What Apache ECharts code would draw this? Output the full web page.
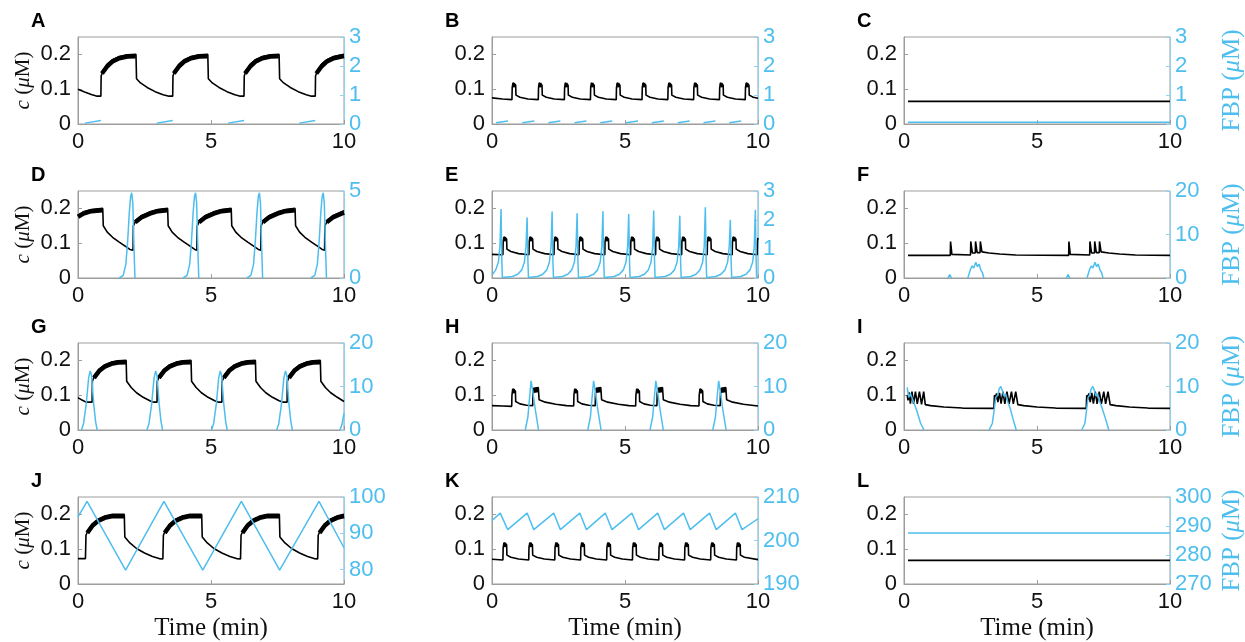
<!DOCTYPE html>
<html><head><meta charset="utf-8">
<script src="https://cdn.jsdelivr.net/npm/echarts@6/dist/echarts.min.js"></script>
<style>html,body{margin:0;padding:0;background:#fff}#c{width:1245px;height:642px}</style>
</head><body><div id="c"></div>
<script>
// ---------- data ----------
const panelLetters = ['A','B','C','D','E','F','G','H','I','J','K','L'];
const timeTicks = [0, 5, 10];
const leftTicks = [0, 0.1, 0.2];
const rightMin = [0, 0, 0, 0, 0, 0, 0, 0, 0, 76, 190, 270];
const rightMax = [3, 3, 3, 5, 3, 20, 20, 20, 20, 100, 210, 300];
const rightTicks = [[0,1,2,3],[0,1,2,3],[0,1,2,3],[0,5],[0,1,2,3],[0,10,20],[0,10,20],[0,10,20],[0,10,20],[80,90,100],[190,200,210],[270,280,290,300]];

const aBlack = [[0,0.1],[0.25,0.092],[0.5,0.085],[0.72,0.08],[0.86,0.08],[0.87,0.138],[0.95,0.155],[1.1,0.172],[1.3,0.185],[1.55,0.194],[1.85,0.199],[2.18,0.2],[2.2,0.13],[2.35,0.118],[2.6,0.105],[2.9,0.093],[3.2,0.084],[3.42,0.08],[3.56,0.08],[3.57,0.138],[3.65,0.155],[3.8,0.172],[4.0,0.185],[4.25,0.194],[4.55,0.199],[4.88,0.2],[4.9,0.13],[5.05,0.118],[5.3,0.105],[5.6,0.093],[5.9,0.084],[6.1,0.08],[6.24,0.08],[6.25,0.138],[6.33,0.155],[6.48,0.172],[6.68,0.185],[6.93,0.194],[7.23,0.199],[7.56,0.2],[7.58,0.13],[7.73,0.118],[7.98,0.105],[8.28,0.093],[8.58,0.084],[8.78,0.08],[8.92,0.08],[8.93,0.138],[9.01,0.155],[9.16,0.172],[9.36,0.185],[9.61,0.194],[9.91,0.199],[10,0.2]];
const aBand = [[0.9,0.145],[1.1,0.166],[1.3,0.18],[1.55,0.189],[1.85,0.194],[2.17,0.195],[2.18,'-'],[3.6,0.145],[3.8,0.166],[4.0,0.18],[4.25,0.189],[4.55,0.194],[4.87,0.195],[4.88,'-'],[6.28,0.145],[6.48,0.166],[6.68,0.18],[6.93,0.189],[7.23,0.194],[7.55,0.195],[7.56,'-'],[8.96,0.145],[9.16,0.166],[9.36,0.18],[9.61,0.189],[9.91,0.194],[10,0.195]];
const aBlue = [[0.26,0.03],[0.86,0.12],[0.87,'-'],[2.96,0.03],[3.56,0.12],[3.57,'-'],[5.64,0.03],[6.24,0.12],[6.25,'-'],[8.32,0.03],[8.92,0.12]];

const bBlack = [[0,0.075],[0.4,0.072],[0.75,0.07],[0.76,0.105],[0.79,0.118],[0.85,0.12],[0.89,0.112],[0.9,0.083],[1.05,0.077],[1.35,0.072],[1.74,0.07],[1.75,0.105],[1.78,0.118],[1.84,0.12],[1.88,0.112],[1.89,0.083],[2.04,0.077],[2.34,0.072],[2.72,0.07],[2.73,0.105],[2.76,0.118],[2.82,0.12],[2.86,0.112],[2.87,0.083],[3.02,0.077],[3.32,0.072],[3.7,0.07],[3.71,0.105],[3.74,0.118],[3.8,0.12],[3.84,0.112],[3.85,0.083],[4.0,0.077],[4.3,0.072],[4.67,0.07],[4.68,0.105],[4.71,0.118],[4.77,0.12],[4.81,0.112],[4.82,0.083],[4.97,0.077],[5.27,0.072],[5.64,0.07],[5.65,0.105],[5.68,0.118],[5.74,0.12],[5.78,0.112],[5.79,0.083],[5.94,0.077],[6.24,0.072],[6.61,0.07],[6.62,0.105],[6.65,0.118],[6.71,0.12],[6.75,0.112],[6.76,0.083],[6.91,0.077],[7.21,0.072],[7.58,0.07],[7.59,0.105],[7.62,0.118],[7.68,0.12],[7.72,0.112],[7.73,0.083],[7.88,0.077],[8.18,0.072],[8.55,0.07],[8.56,0.105],[8.59,0.118],[8.65,0.12],[8.69,0.112],[8.7,0.083],[8.85,0.077],[9.15,0.072],[9.52,0.07],[9.53,0.105],[9.56,0.118],[9.62,0.12],[9.66,0.112],[9.67,0.083],[9.82,0.077],[10,0.074]];
const bBand = [[0.77,0.111],[0.88,0.112],[0.885,'-'],[1.76,0.111],[1.87,0.112],[1.875,'-'],[2.74,0.111],[2.85,0.112],[2.855,'-'],[3.72,0.111],[3.83,0.112],[3.835,'-'],[4.69,0.111],[4.8,0.112],[4.805,'-'],[5.66,0.111],[5.77,0.112],[5.775,'-'],[6.63,0.111],[6.74,0.112],[6.745,'-'],[7.6,0.111],[7.71,0.112],[7.715,'-'],[8.57,0.111],[8.68,0.112],[8.685,'-'],[9.54,0.111],[9.65,0.112]];
const bBlue = [[0.15,0.04],[0.6,0.1],[0.61,'-'],[1.14,0.04],[1.59,0.1],[1.6,'-'],[2.12,0.04],[2.57,0.1],[2.58,'-'],[3.1,0.04],[3.55,0.1],[3.56,'-'],[4.07,0.04],[4.52,0.1],[4.53,'-'],[5.04,0.04],[5.49,0.1],[5.5,'-'],[6.01,0.04],[6.46,0.1],[6.47,'-'],[6.98,0.04],[7.43,0.1],[7.44,'-'],[7.95,0.04],[8.4,0.1],[8.41,'-'],[8.92,0.04],[9.37,0.1]];

const cBlack = [[0.15,0.065],[10,0.065]];
const cBand = [];
const cBlue = [[0.15,0.06],[10,0.06]];

const dBlack = [[0,0.18],[0.2,0.19],[0.5,0.197],[0.93,0.2],[0.95,0.15],[1.1,0.132],[1.3,0.117],[1.55,0.103],[1.8,0.09],[1.95,0.082],[2.07,0.08],[2.08,0.15],[2.2,0.168],[2.4,0.18],[2.7,0.19],[3.0,0.197],[3.37,0.2],[3.39,0.15],[3.54,0.132],[3.74,0.117],[3.99,0.103],[4.24,0.09],[4.39,0.082],[4.47,0.08],[4.48,0.15],[4.6,0.168],[4.8,0.18],[5.1,0.19],[5.4,0.197],[5.76,0.2],[5.78,0.15],[5.93,0.132],[6.13,0.117],[6.38,0.103],[6.63,0.09],[6.78,0.082],[6.87,0.08],[6.88,0.15],[7.0,0.168],[7.2,0.18],[7.5,0.19],[7.8,0.197],[8.16,0.2],[8.18,0.15],[8.33,0.132],[8.53,0.117],[8.78,0.103],[9.03,0.09],[9.18,0.082],[9.27,0.08],[9.28,0.15],[9.4,0.168],[9.6,0.18],[9.9,0.19],[10,0.193]];
const dBand = [[0,0.176],[0.2,0.185],[0.5,0.192],[0.92,0.195],[0.93,'-'],[2.15,0.16],[2.4,0.175],[2.7,0.185],[3.0,0.192],[3.36,0.195],[3.37,'-'],[4.55,0.16],[4.8,0.175],[5.1,0.185],[5.4,0.192],[5.75,0.195],[5.76,'-'],[6.95,0.16],[7.2,0.175],[7.5,0.185],[7.8,0.192],[8.15,0.195],[8.16,'-'],[9.35,0.16],[9.6,0.175],[9.9,0.185],[10,0.188]];
const dBlue = [[1.55,0],[1.7,0.15],[1.8,0.8],[1.87,2.2],[1.93,3.8],[1.98,4.7],[2.02,4.9],[2.06,4.3],[2.1,2],[2.14,0],[2.15,'-'],[3.95,0],[4.1,0.15],[4.2,0.8],[4.27,2.2],[4.33,3.8],[4.38,4.7],[4.42,4.9],[4.46,4.3],[4.5,2],[4.54,0],[4.55,'-'],[6.35,0],[6.5,0.15],[6.6,0.8],[6.67,2.2],[6.73,3.8],[6.78,4.7],[6.82,4.9],[6.86,4.3],[6.9,2],[6.94,0],[6.95,'-'],[8.75,0],[8.9,0.15],[9.0,0.8],[9.07,2.2],[9.13,3.8],[9.18,4.7],[9.22,4.9],[9.26,4.3],[9.3,2],[9.34,0]];

const eBlack = [[0,0.068],[0.41,0.067],[0.42,0.105],[0.45,0.118],[0.51,0.12],[0.55,0.112],[0.56,0.083],[0.71,0.076],[1.0,0.07],[1.39,0.067],[1.4,0.105],[1.43,0.118],[1.49,0.12],[1.53,0.112],[1.54,0.083],[1.69,0.076],[1.98,0.07],[2.33,0.067],[2.34,0.105],[2.37,0.118],[2.43,0.12],[2.47,0.112],[2.48,0.083],[2.63,0.076],[2.92,0.07],[3.27,0.067],[3.28,0.105],[3.31,0.118],[3.37,0.12],[3.41,0.112],[3.42,0.083],[3.57,0.076],[3.86,0.07],[4.24,0.067],[4.25,0.105],[4.28,0.118],[4.34,0.12],[4.38,0.112],[4.39,0.083],[4.54,0.076],[4.83,0.07],[5.21,0.067],[5.22,0.105],[5.25,0.118],[5.31,0.12],[5.35,0.112],[5.36,0.083],[5.51,0.076],[5.8,0.07],[6.15,0.067],[6.16,0.105],[6.19,0.118],[6.25,0.12],[6.29,0.112],[6.3,0.083],[6.45,0.076],[6.74,0.07],[7.13,0.067],[7.14,0.105],[7.17,0.118],[7.23,0.12],[7.27,0.112],[7.28,0.083],[7.43,0.076],[7.72,0.07],[8.09,0.067],[8.1,0.105],[8.13,0.118],[8.19,0.12],[8.23,0.112],[8.24,0.083],[8.39,0.076],[8.68,0.07],[9.03,0.067],[9.04,0.105],[9.07,0.118],[9.13,0.12],[9.17,0.112],[9.18,0.083],[9.33,0.076],[9.62,0.07],[9.97,0.067],[9.98,0.105],[10,0.115]];
const eBand = [[0.43,0.111],[0.54,0.112],[0.545,'-'],[1.41,0.111],[1.52,0.112],[1.525,'-'],[2.35,0.111],[2.46,0.112],[2.465,'-'],[3.29,0.111],[3.4,0.112],[3.405,'-'],[4.26,0.111],[4.37,0.112],[4.375,'-'],[5.23,0.111],[5.34,0.112],[5.345,'-'],[6.17,0.111],[6.28,0.112],[6.285,'-'],[7.15,0.111],[7.26,0.112],[7.265,'-'],[8.11,0.111],[8.22,0.112],[8.225,'-'],[9.05,0.111],[9.16,0.112]];
const eBlue = [[0,0.1],[0.14,0.28],[0.24,0.55],[0.3,1.1],[0.34,2.38],[0.37,0.6],[0.39,0.02],[0.77,0.05],[0.97,0.13],[1.12,0.28],[1.22,0.55],[1.28,1.1],[1.32,2.09],[1.35,0.6],[1.37,0.02],[1.71,0.05],[1.91,0.13],[2.06,0.28],[2.16,0.55],[2.22,1.1],[2.26,2.29],[2.29,0.6],[2.31,0.02],[2.65,0.05],[2.85,0.13],[3.0,0.28],[3.1,0.55],[3.16,1.1],[3.2,2.23],[3.23,0.6],[3.25,0.02],[3.62,0.05],[3.82,0.13],[3.97,0.28],[4.07,0.55],[4.13,1.1],[4.17,2.3],[4.2,0.6],[4.22,0.02],[4.59,0.05],[4.79,0.13],[4.94,0.28],[5.04,0.55],[5.1,1.1],[5.14,2.21],[5.17,0.6],[5.19,0.02],[5.53,0.05],[5.73,0.13],[5.88,0.28],[5.98,0.55],[6.04,1.1],[6.08,2.33],[6.11,0.6],[6.13,0.02],[6.51,0.05],[6.71,0.13],[6.86,0.28],[6.96,0.55],[7.02,1.1],[7.06,2.15],[7.09,0.6],[7.11,0.02],[7.47,0.05],[7.67,0.13],[7.82,0.28],[7.92,0.55],[7.98,1.1],[8.02,2.44],[8.05,0.6],[8.07,0.02],[8.41,0.05],[8.61,0.13],[8.76,0.28],[8.86,0.55],[8.92,1.1],[8.96,2.01],[8.99,0.6],[9.01,0.02],[9.35,0.05],[9.55,0.13],[9.7,0.28],[9.8,0.55],[9.86,1.1],[9.9,2.35],[9.93,0.6],[9.95,0.02],[10,0.04]];

const fBlack = [[0.15,0.065],[1.74,0.065],[1.75,0.105],[1.79,0.105],[1.8,0.068],[2.5,0.066],[2.51,0.105],[2.55,0.105],[2.57,0.072],[2.68,0.072],[2.69,0.105],[2.73,0.105],[2.75,0.073],[2.86,0.073],[2.87,0.105],[2.91,0.105],[2.93,0.075],[3.2,0.072],[3.6,0.069],[4.2,0.066],[6.19,0.065],[6.2,0.105],[6.24,0.105],[6.25,0.068],[6.98,0.066],[6.99,0.105],[7.03,0.105],[7.05,0.072],[7.16,0.072],[7.17,0.105],[7.21,0.105],[7.23,0.073],[7.34,0.073],[7.35,0.105],[7.39,0.105],[7.41,0.075],[7.7,0.072],[8.1,0.069],[8.7,0.066],[10,0.065]];
const fBand = [];
const fBlue = [[1.65,0],[1.72,0.8],[1.78,0],[1.79,'-'],[2.4,0],[2.5,2],[2.56,2.8],[2.62,2.3],[2.7,3.6],[2.76,2.6],[2.82,3.2],[2.88,2],[2.95,1.2],[3.0,0],[3.01,'-'],[6.1,0],[6.17,0.8],[6.23,0],[6.24,'-'],[6.88,0],[6.98,2],[7.04,2.8],[7.1,2.3],[7.18,3.6],[7.24,2.6],[7.3,3.2],[7.36,2],[7.43,1.2],[7.48,0]];

const gBlack = [[0,0.093],[0.15,0.086],[0.3,0.08],[0.53,0.08],[0.54,0.14],[0.65,0.16],[0.8,0.175],[1.0,0.187],[1.25,0.195],[1.5,0.199],[1.81,0.2],[1.83,0.14],[2.0,0.122],[2.2,0.107],[2.45,0.094],[2.7,0.084],[2.85,0.08],[2.97,0.08],[2.98,0.14],[3.09,0.16],[3.24,0.175],[3.44,0.187],[3.69,0.195],[3.94,0.199],[4.25,0.2],[4.27,0.14],[4.44,0.122],[4.64,0.107],[4.89,0.094],[5.14,0.084],[5.29,0.08],[5.41,0.08],[5.42,0.14],[5.53,0.16],[5.68,0.175],[5.88,0.187],[6.13,0.195],[6.38,0.199],[6.67,0.2],[6.69,0.14],[6.86,0.122],[7.06,0.107],[7.31,0.094],[7.56,0.084],[7.71,0.08],[7.86,0.08],[7.87,0.14],[7.98,0.16],[8.13,0.175],[8.33,0.187],[8.58,0.195],[8.83,0.199],[9.11,0.2],[9.13,0.14],[9.3,0.122],[9.5,0.107],[9.75,0.094],[10,0.082]];
const gBand = [[0.6,0.15],[0.8,0.17],[1.0,0.182],[1.25,0.19],[1.5,0.194],[1.8,0.195],[1.81,'-'],[3.04,0.15],[3.24,0.17],[3.44,0.182],[3.69,0.19],[3.94,0.194],[4.24,0.195],[4.25,'-'],[5.48,0.15],[5.68,0.17],[5.88,0.182],[6.13,0.19],[6.38,0.194],[6.66,0.195],[6.67,'-'],[7.93,0.15],[8.13,0.17],[8.33,0.182],[8.58,0.19],[8.83,0.194],[9.1,0.195]];
const gBlue = [[0.13,0],[0.21,1.5],[0.31,6],[0.4,12],[0.46,13.6],[0.51,12.5],[0.59,6],[0.66,2],[0.72,0],[0.73,'-'],[2.59,0],[2.67,1.5],[2.77,6],[2.86,12],[2.92,13.6],[2.97,12.5],[3.05,6],[3.12,2],[3.18,0],[3.19,'-'],[5.02,0],[5.1,1.5],[5.2,6],[5.29,12],[5.35,13.6],[5.4,12.5],[5.48,6],[5.55,2],[5.61,0],[5.62,'-'],[7.47,0],[7.55,1.5],[7.65,6],[7.74,12],[7.8,13.6],[7.85,12.5],[7.93,6],[8.0,2],[8.06,0],[8.07,'-'],[9.85,0],[9.92,1.2],[10,3.8]];

const hBlack = [[0,0.07],[0.4,0.069],[0.74,0.068],[0.75,0.1],[0.78,0.118],[0.84,0.12],[0.88,0.112],[0.89,0.082],[1.05,0.075],[1.3,0.071],[1.53,0.07],[1.54,0.105],[1.57,0.12],[1.74,0.122],[1.76,0.1],[1.77,0.087],[2.0,0.08],[2.4,0.074],[2.8,0.07],[3.07,0.069],[3.08,0.1],[3.11,0.118],[3.17,0.12],[3.21,0.112],[3.22,0.082],[3.38,0.075],[3.63,0.071],[3.88,0.07],[3.89,0.105],[3.92,0.12],[4.09,0.122],[4.11,0.1],[4.12,0.087],[4.35,0.08],[4.75,0.074],[5.15,0.07],[5.4,0.069],[5.41,0.1],[5.44,0.118],[5.5,0.12],[5.54,0.112],[5.55,0.082],[5.71,0.075],[5.96,0.071],[6.2,0.07],[6.21,0.105],[6.24,0.12],[6.41,0.122],[6.43,0.1],[6.44,0.087],[6.67,0.08],[7.07,0.074],[7.47,0.07],[7.78,0.069],[7.79,0.1],[7.82,0.118],[7.88,0.12],[7.92,0.112],[7.93,0.082],[8.09,0.075],[8.34,0.071],[8.58,0.07],[8.59,0.105],[8.62,0.12],[8.79,0.122],[8.81,0.1],[8.82,0.087],[9.05,0.08],[9.45,0.074],[10,0.069]];
const hBand = [[0.76,0.111],[0.87,0.112],[0.875,'-'],[1.55,0.113],[1.74,0.115],[1.745,'-'],[3.09,0.111],[3.2,0.112],[3.205,'-'],[3.9,0.113],[4.09,0.115],[4.095,'-'],[5.42,0.111],[5.53,0.112],[5.535,'-'],[6.22,0.113],[6.41,0.115],[6.415,'-'],[7.8,0.111],[7.91,0.112],[7.915,'-'],[8.6,0.113],[8.79,0.115]];
const hBlue = [[1.25,0],[1.35,3],[1.42,8],[1.47,11.3],[1.53,9],[1.62,5],[1.75,0],[1.76,'-'],[3.6,0],[3.7,3],[3.77,8],[3.82,11.3],[3.88,9],[3.97,5],[4.1,0],[4.11,'-'],[5.94,0],[6.04,3],[6.11,8],[6.16,11.3],[6.22,9],[6.31,5],[6.44,0],[6.45,'-'],[8.3,0],[8.4,3],[8.47,8],[8.52,11.3],[8.58,9],[8.67,5],[8.8,0]];

const iBlack = [[0.12,0.1],[0.15,0.085],[0.19,0.108],[0.24,0.076],[0.3,0.11],[0.36,0.075],[0.43,0.11],[0.5,0.075],[0.58,0.11],[0.66,0.074],[0.74,0.11],[0.77,0.108],[0.8,0.073],[1.0,0.07],[1.5,0.066],[2.2,0.063],[3.38,0.062],[3.4,0.1],[3.44,0.088],[3.48,0.105],[3.53,0.08],[3.59,0.107],[3.65,0.076],[3.72,0.11],[3.79,0.075],[3.87,0.11],[3.95,0.075],[4.04,0.11],[4.11,0.075],[4.2,0.11],[4.25,0.108],[4.28,0.073],[4.5,0.07],[5.0,0.066],[5.7,0.063],[6.85,0.062],[6.87,0.1],[6.91,0.088],[6.95,0.105],[7.0,0.08],[7.06,0.107],[7.12,0.076],[7.19,0.11],[7.26,0.075],[7.34,0.11],[7.42,0.075],[7.51,0.11],[7.58,0.075],[7.67,0.11],[7.72,0.108],[7.75,0.073],[7.97,0.07],[8.47,0.066],[9.17,0.063],[10,0.062]];
const iBand = [[0.13,0.095],[0.2,0.095],[0.21,'-'],[3.41,0.095],[3.52,0.095],[3.53,'-'],[6.88,0.095],[6.99,0.095]];
const iBlue = [[0.12,9.8],[0.18,7.5],[0.24,8.4],[0.35,6.6],[0.48,4.5],[0.62,1.6],[0.75,0],[0.76,'-'],[3.2,0],[3.32,1.5],[3.4,5],[3.45,7.5],[3.52,8],[3.58,9.5],[3.64,10],[3.7,9],[3.75,7.8],[3.82,8.3],[3.9,6.5],[4.0,4.8],[4.1,2.5],[4.22,0],[4.23,'-'],[6.68,0],[6.8,1.5],[6.87,5],[6.92,7.5],[6.98,8],[7.04,9.5],[7.1,10],[7.16,9],[7.21,7.8],[7.28,8.3],[7.36,6.5],[7.46,4.8],[7.58,2.5],[7.7,0]];

const jBlack = [[0,0.073],[0.28,0.073],[0.3,0.14],[0.4,0.158],[0.55,0.173],[0.75,0.186],[1.0,0.195],[1.3,0.2],[1.74,0.2],[1.76,0.135],[1.95,0.118],[2.2,0.102],[2.5,0.089],[2.8,0.079],[3.05,0.073],[3.19,0.072],[3.21,0.14],[3.31,0.158],[3.46,0.173],[3.66,0.186],[3.91,0.195],[4.21,0.2],[4.65,0.2],[4.67,0.135],[4.86,0.118],[5.11,0.102],[5.41,0.089],[5.71,0.079],[5.96,0.073],[6.11,0.072],[6.13,0.14],[6.23,0.158],[6.38,0.173],[6.58,0.186],[6.83,0.195],[7.13,0.2],[7.57,0.2],[7.59,0.135],[7.78,0.118],[8.03,0.102],[8.33,0.089],[8.63,0.079],[8.88,0.073],[9.01,0.072],[9.03,0.14],[9.13,0.158],[9.28,0.173],[9.48,0.186],[9.73,0.195],[10,0.2]];
const jBand = [[0.35,0.147],[0.55,0.168],[0.75,0.181],[1.0,0.19],[1.3,0.195],[1.73,0.195],[1.74,'-'],[3.26,0.147],[3.46,0.168],[3.66,0.181],[3.91,0.19],[4.21,0.195],[4.64,0.195],[4.65,'-'],[6.18,0.147],[6.38,0.168],[6.58,0.181],[6.83,0.19],[7.13,0.195],[7.56,0.195],[7.57,'-'],[9.08,0.147],[9.28,0.168],[9.48,0.181],[9.73,0.19],[10,0.195]];
const jBlue = [[0,94.5],[0.34,98.8],[1.79,79.8],[3.23,98.8],[4.69,79.8],[6.14,98.8],[7.58,79.8],[9.06,98.8],[10,86]];

const kBlack = [[0,0.071],[0.41,0.069],[0.42,0.105],[0.45,0.118],[0.51,0.121],[0.55,0.113],[0.56,0.083],[0.71,0.077],[1.0,0.072],[1.38,0.069],[1.39,0.105],[1.42,0.118],[1.48,0.121],[1.52,0.113],[1.53,0.083],[1.68,0.077],[1.97,0.072],[2.36,0.069],[2.37,0.105],[2.4,0.118],[2.46,0.121],[2.5,0.113],[2.51,0.083],[2.66,0.077],[2.95,0.072],[3.33,0.069],[3.34,0.105],[3.37,0.118],[3.43,0.121],[3.47,0.113],[3.48,0.083],[3.63,0.077],[3.92,0.072],[4.31,0.069],[4.32,0.105],[4.35,0.118],[4.41,0.121],[4.45,0.113],[4.46,0.083],[4.61,0.077],[4.9,0.072],[5.28,0.069],[5.29,0.105],[5.32,0.118],[5.38,0.121],[5.42,0.113],[5.43,0.083],[5.58,0.077],[5.87,0.072],[6.27,0.069],[6.28,0.105],[6.31,0.118],[6.37,0.121],[6.41,0.113],[6.42,0.083],[6.57,0.077],[6.86,0.072],[7.24,0.069],[7.25,0.105],[7.28,0.118],[7.34,0.121],[7.38,0.113],[7.39,0.083],[7.54,0.077],[7.83,0.072],[8.22,0.069],[8.23,0.105],[8.26,0.118],[8.32,0.121],[8.36,0.113],[8.37,0.083],[8.52,0.077],[8.81,0.072],[9.19,0.069],[9.2,0.105],[9.23,0.118],[9.29,0.121],[9.33,0.113],[9.34,0.083],[9.49,0.077],[10,0.07]];
const kBand = [[0.43,0.112],[0.54,0.113],[0.545,'-'],[1.4,0.112],[1.51,0.113],[1.515,'-'],[2.38,0.112],[2.49,0.113],[2.495,'-'],[3.35,0.112],[3.46,0.113],[3.465,'-'],[4.33,0.112],[4.44,0.113],[4.445,'-'],[5.3,0.112],[5.41,0.113],[5.415,'-'],[6.29,0.112],[6.4,0.113],[6.405,'-'],[7.26,0.112],[7.37,0.113],[7.375,'-'],[8.24,0.112],[8.35,0.113],[8.355,'-'],[9.21,0.112],[9.32,0.113]];
const kBlue = [[0,204.6],[0.31,206.3],[0.59,202.5],[1.32,206.3],[1.57,202.5],[2.32,206.3],[2.57,202.5],[3.3,206.3],[3.55,202.5],[4.26,206.3],[4.51,202.5],[5.26,206.3],[5.51,202.5],[6.23,206.3],[6.48,202.5],[7.2,206.3],[7.45,202.5],[8.18,206.3],[8.43,202.5],[9.15,206.3],[9.4,202.5],[10,205]];

const lBlack = [[0.15,0.068],[10,0.068]];
const lBand = [];
const lBlue = [[0.15,287.6],[10,287.6]];

const blackData = [aBlack,bBlack,cBlack,dBlack,eBlack,fBlack,gBlack,hBlack,iBlack,jBlack,kBlack,lBlack];
const bandData = [aBand,bBand,cBand,dBand,eBand,fBand,gBand,hBand,iBand,jBand,kBand,lBand];
const blueData = [aBlue,bBlue,cBlue,dBlue,eBlue,fBlue,gBlue,hBlue,iBlue,jBlue,kBlue,lBlue];

// ---------- layout / style ----------
const BLUE = '#4DBEEE';
const BOX = '#9d9d9d';
const colLeft = [78, 492, 904], rowTop = [37, 191, 343, 497], plotW = 266, plotH = 87;
const sans = 'Liberation Sans, Arial, sans-serif';
const serif = 'Liberation Serif, Times New Roman, serif';

const grids = [], xAxes = [], yAxes = [], series = [], titles = [];
for (let i = 0; i < 12; i++) {
  const r = Math.floor(i / 3), c = i % 3;
  grids.push({left: colLeft[c], top: rowTop[r], width: plotW, height: plotH, show: true,
    borderColor: BOX, borderWidth: 1, backgroundColor: 'transparent', containLabel: false, outerBoundsMode: 'none'});
  titles.push({text: panelLetters[i], left: colLeft[c] - 47, top: rowTop[r] - 26, padding: 0,
    textStyle: {fontFamily: sans, fontWeight: 'bold', fontSize: 20, color: '#000'}});
  xAxes.push({gridIndex: i, type: 'value', min: 0, max: 10, interval: 5,
    axisLine: {show: true, lineStyle: {color: BOX, width: 1}},
    axisTick: {show: true, inside: true, length: 4, lineStyle: {color: BOX}},
    axisLabel: {color: '#111', fontSize: 22, fontFamily: sans, margin: 7,
      customValues: timeTicks},
    splitLine: {show: false},
    name: r === 3 ? 'Time (min)' : '', nameLocation: 'middle', nameGap: 32,
    nameTextStyle: {fontFamily: serif, fontSize: 25, color: '#111'}});
  yAxes.push({gridIndex: i, type: 'value', position: 'left', min: 0, max: 0.25,
    axisLine: {show: true, lineStyle: {color: BOX, width: 1}},
    axisTick: {show: true, inside: true, length: 4, lineStyle: {color: BOX}, customValues: leftTicks},
    axisLabel: {color: '#111', fontSize: 22, fontFamily: sans, margin: 7, customValues: leftTicks},
    splitLine: {show: false},
    name: c === 0 ? '{i|c} ({i|μ}M)' : '', nameLocation: 'middle', nameRotate: 90, nameGap: 44,
    nameTextStyle: {fontFamily: serif, fontSize: 21, color: '#111',
      rich: {i: {fontStyle: 'italic', fontFamily: serif, fontSize: 21, color: '#111'}}}});
  yAxes.push({gridIndex: i, type: 'value', position: 'right', min: rightMin[i], max: rightMax[i],
    axisLine: {show: true, lineStyle: {color: '#8fd3f1', width: 1}},
    axisTick: {show: true, inside: true, length: 4, lineStyle: {color: '#8fd3f1'}, customValues: rightTicks[i]},
    axisLabel: {color: BLUE, fontSize: 22, fontFamily: sans, margin: 5, customValues: rightTicks[i]},
    splitLine: {show: false},
    name: c === 2 ? '{t|FBP (}{i|μ}{t|M)}' : '', nameLocation: 'middle', nameRotate: 90, nameGap: 50,
    nameTextStyle: {color: BLUE, fontFamily: serif, fontSize: 25,
      rich: {t: {fontFamily: serif, fontSize: 25, color: BLUE}, i: {fontStyle: 'italic', fontFamily: serif, fontSize: 25, color: BLUE}}}});
  const common = {type: 'line', xAxisIndex: i, showSymbol: false, symbol: 'none', silent: true, animation: false, connectNulls: false};
  series.push(Object.assign({}, common, {yAxisIndex: 2 * i, data: blackData[i], z: 2,
    lineStyle: {color: '#000', width: 1.6}}));
  if (bandData[i].length) series.push(Object.assign({}, common, {yAxisIndex: 2 * i, data: bandData[i], z: 2,
    lineStyle: {color: '#000', width: 4.5}}));
  series.push(Object.assign({}, common, {yAxisIndex: 2 * i + 1, data: blueData[i], z: 3,
    lineStyle: {color: BLUE, width: 1.5}}));
}

const chart = echarts.init(document.getElementById('c'), null, {renderer: 'canvas'});
chart.setOption({animation: false, backgroundColor: '#fff', title: titles, grid: grids,
  xAxis: xAxes, yAxis: yAxes, series: series});
</script></body></html>
